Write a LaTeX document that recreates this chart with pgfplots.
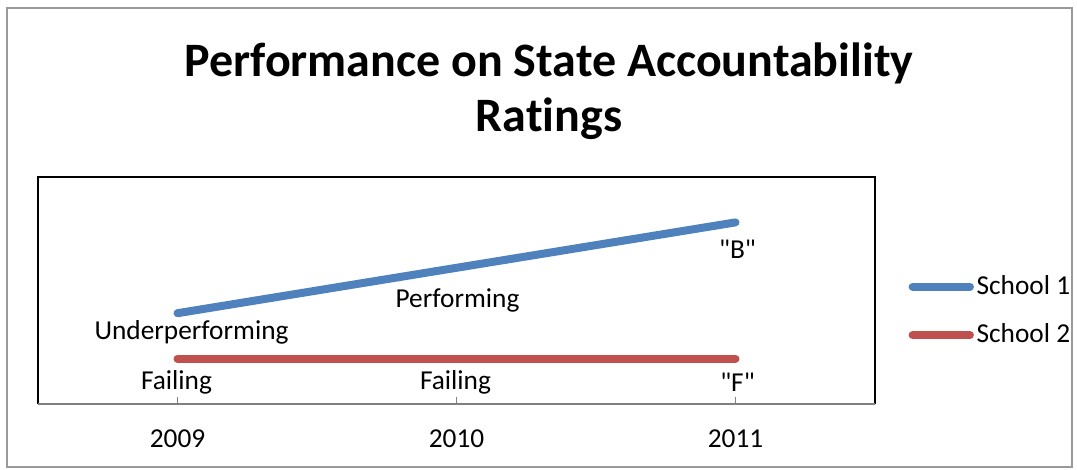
\documentclass[border=0pt]{standalone}
\usepackage{pgfplots}
\pgfplotsset{compat=1.18}
\usepackage{pgfplotstable}
\usepackage{fontspec}
\setmainfont{Carlito}[Ligatures={NoCommon,TeXOff}]
\definecolor{sblue}{HTML}{4F81BD}
\definecolor{sred}{HTML}{C0504D}
\pgfplotstableread{
x y dx dy label
0 2 14 19 Underperforming
1 3 1 33 Performing
2 4 2 27 "B"
}\schoolone
\pgfplotstableread{
x y dx dy label
0 1 -1 24 Failing
1 1 -1 24 Failing
2 1 2 24 "F"
}\schooltwo
\begin{document}
\fontsize{20.5}{24}\selectfont
\begin{tikzpicture}[x=0.75pt,y=-0.75pt]
\useasboundingbox (0,0) rectangle (1077,470);
\draw[gray!80, line width=1.5pt] (7,8) rectangle (1072,467);
\node[font=\fontsize{36}{41}\selectfont\bfseries, anchor=base] at (549,77) {Performance on State Accountability};
\node[font=\fontsize{36}{41}\selectfont\bfseries, anchor=base] at (549,132) {Ratings};
\begin{axis}[
  at={(28.5pt,-303pt)}, anchor=south west,
  scale only axis, width=627.75pt, height=170.25pt,
  xmin=-0.5, xmax=2.5, ymin=0, ymax=5,
  axis line style={draw=none},
  xtick={-0.5,0,1,2,2.5}, xticklabels={,2009,2010,2011,},
  ytick=\empty,
  xtick pos=bottom,
  tick align=inside, major tick length=5pt,
  every tick/.style={gray, line width=1pt},
  xticklabel style={yshift=-12pt},
  clip=false,
  legend style={draw=none, fill=none, at={(axis description cs:1,0.41)}, anchor=west, xshift=25pt,
    row sep=15pt, font=\fontsize{20.5}{24}\selectfont, inner sep=0pt},
  legend cell align=left,
  legend image code/.code={\draw[#1] (0pt,0pt) -- (43pt,0pt);},
  point meta=explicit symbolic,
  nodes near coords,
  visualization depends on={\thisrow{dx} \as \mydx},
  visualization depends on={\thisrow{dy} \as \mydy},
  every node near coord/.style={anchor=center, xshift={0.75*\mydx}, yshift={-0.75*\mydy}, text=black, font=\fontsize{20.5}{24}\selectfont},
]
\draw[black, line width=1.5pt] (rel axis cs:0,0) -- (rel axis cs:0,1) -- (rel axis cs:1,1) -- (rel axis cs:1,0);
\draw[gray, line width=1.2pt] (rel axis cs:0,0) -- (rel axis cs:1,0);
\addplot[sblue, line width=6pt, line cap=round] table[x=x, y=y, meta=label] {\schoolone};
\addlegendentry{School 1}
\addplot[sred, line width=6pt, line cap=round] table[x=x, y=y, meta=label] {\schooltwo};
\addlegendentry{School 2}
\end{axis}
\end{tikzpicture}
\end{document}
